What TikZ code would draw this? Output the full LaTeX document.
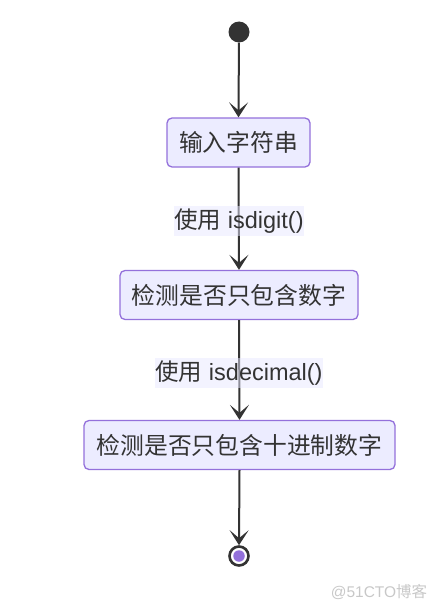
\documentclass[tikz,border=0pt]{standalone}
\usepackage{fontspec}
\setmainfont{Liberation Sans}
\newfontfamily\cjk{Noto Sans CJK SC}
\usetikzlibrary{arrows.meta}
\definecolor{boxfill}{HTML}{ECECFF}
\definecolor{boxline}{HTML}{9370DB}
\definecolor{ink}{HTML}{333333}
\definecolor{lblbg}{HTML}{E8E8FF}
\definecolor{wm}{HTML}{C8C8C8}
\tikzset{
  statebox/.style={draw=boxline, fill=boxfill, line width=1.3pt, rounded corners=5pt,
    text=ink, font=\fontsize{23.8}{28}\selectfont\cjk, inner xsep=10pt, minimum height=49pt},
  edge/.style={draw=ink, line width=2pt, -{Stealth[length=15pt,width=19pt,inset=8pt]}},
  elabel/.style={fill=lblbg, fill opacity=0.5, text opacity=1, text=ink, inner xsep=0pt,
    inner ysep=3pt, font=\fontsize{23.5}{28}\selectfont},
}
\begin{document}
\begin{tikzpicture}[x=1pt,y=-1pt]
\useasboundingbox (0,0) rectangle (439,610);
\node[circle, fill=ink, minimum size=21pt, inner sep=0pt] (start) at (239,32) {};
\node[statebox, minimum width=143pt] (b1) at (238.5,142.5) {输入字符串};
\node[statebox, minimum width=238pt] (b2) at (239,295) {检测是否只包含数字};
\node[statebox, minimum width=311pt] (b3) at (239.5,445) {检测是否只包含十进制数字};
\node[circle, draw=ink, line width=2.6pt, fill=white, minimum size=19pt, inner sep=0pt] (end) at (239,556) {};
\node[circle, fill=boxline, minimum size=11.5pt, inner sep=0pt] (endin) at (end) {};
\draw[edge] (start) -- (b1.north);
\draw[edge] (b1.south) -- (b2.north);
\draw[edge] (b2.south) -- (b3.north);
\draw[edge] (b3.south) -- (end.north);
\node[elabel] (l1) at (239,221) {{\cjk 使用} isdigit()};
\node[elabel] (l2) at (239,373) {{\cjk 使用} isdecimal()};
\node[text=wm, font=\fontsize{15.5}{18}\selectfont] (wmk) at (379,592) {@51CTO{\cjk 博客}};
\end{tikzpicture}
\end{document}
